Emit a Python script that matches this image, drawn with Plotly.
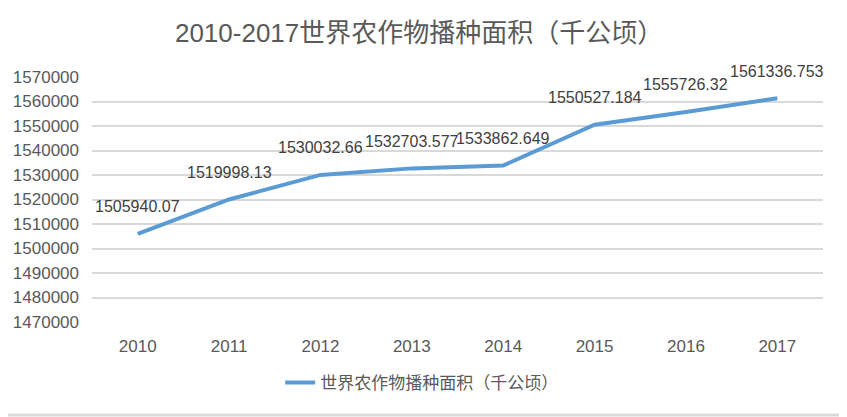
import plotly.graph_objects as go

years = ["2010", "2011", "2012", "2013", "2014", "2015", "2016", "2017"]
area = [1505940.07, 1519998.13, 1530032.66, 1532703.577,
        1533862.649, 1550527.184, 1555726.32, 1561336.753]
labels = ["1505940.07", "1519998.13", "1530032.66", "1532703.577",
          "1533862.649", "1550527.184", "1555726.32", "1561336.753"]
y_ticks = list(range(1470000, 1570001, 10000))

font_family = "Liberation Sans, Noto Sans CJK SC, sans-serif"
grey = "#595959"
border = "#d9d9d9"

fig = go.Figure()
fig.add_trace(go.Scatter(
    x=years, y=area, mode="lines",
    line=dict(color="#5b9bd5", width=4),
    name="世界农作物播种面积（千公顷）",
))

# data labels above each point (category index, since "2010" would be read as a number)
for i, (val, lab) in enumerate(zip(area, labels)):
    fig.add_annotation(x=i, y=val, text=lab, showarrow=False,
                       yshift=27, yanchor="middle",
                       font=dict(size=16, color="#404040", family=font_family))

# the page body adds an 8px offset, so the figure is a bit smaller than the window
fig.update_layout(
    width=839, height=409,
    margin=dict(l=84, r=24, t=69, b=95, autoexpand=False),
    paper_bgcolor="white", plot_bgcolor="white",
    title=dict(text="2010-2017世界农作物播种面积（千公顷）",
               x=0.49, xref="container", xanchor="center",
               y=0.939, yanchor="middle",
               font=dict(size=26, color=grey, family=font_family)),
    showlegend=True,
    legend=dict(orientation="h", x=0.451, xanchor="center", y=-0.249, yanchor="middle",
                font=dict(size=17, color=grey, family=font_family)),
    xaxis=dict(type="category", range=[-0.5, 7.5], showgrid=False,
               showline=False, ticks="", automargin=False, ticklabelstandoff=12,
               tickfont=dict(size=17, color=grey, family=font_family)),
    yaxis=dict(range=[1470000, 1570000], tickvals=y_ticks,
               tickformat="d", showgrid=True, gridcolor=border, gridwidth=1.5,
               zeroline=False, showline=False, automargin=False, ticklabelstandoff=12,
               tickfont=dict(size=17, color=grey, family=font_family)),
    shapes=[
        dict(type="line", xref="paper", yref="paper",
             x0=1.0274, x1=1.0274, y0=-0.3796, y1=1.3,
             line=dict(color=border, width=3)),
        dict(type="line", xref="paper", yref="paper",
             x0=-0.12, x1=1.0274, y0=-0.3796, y1=-0.3796,
             line=dict(color=border, width=3)),
    ],
)

fig.write_html("out.html")
